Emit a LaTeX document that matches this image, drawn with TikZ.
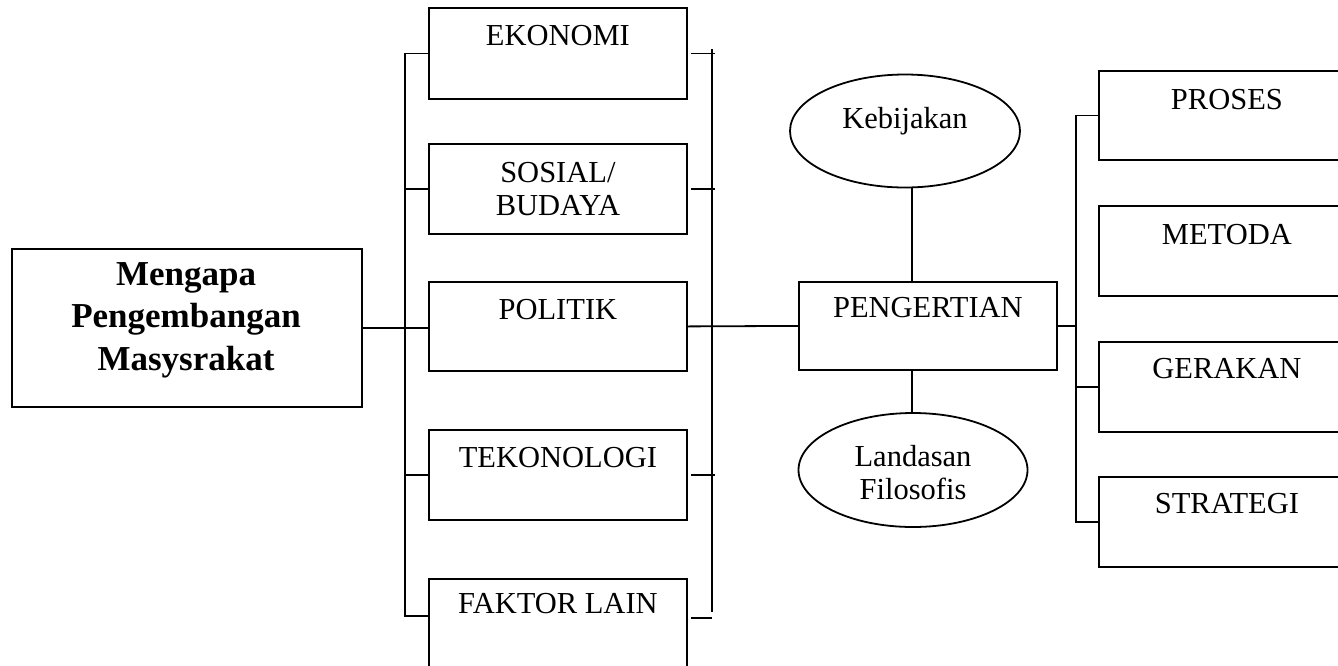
\documentclass[tikz,border=0pt]{standalone}
\usepackage{fontspec}
\setmainfont{Liberation Serif}
\usetikzlibrary{shapes.geometric}
\tikzset{
  box/.style={draw, line width=1.8pt, inner sep=0pt, anchor=north west, minimum width=258, minimum height=90},
  oval/.style={draw, ellipse, line width=1.8pt, inner sep=0pt},
  lbl/.style={inner sep=0pt, anchor=north, align=center, font=\fontsize{30.5}{33}\selectfont},
  conn/.style={line width=1.8pt},
}
\begin{document}
\begin{tikzpicture}[x=1pt,y=-1pt]
\useasboundingbox (0,0) rectangle (1338,665);
\clip (0,0) rectangle (1338,665);

% main box
\node[box, minimum width=350, minimum height=158] (main) at (11,248) {};
\node[lbl, font=\fontsize{35}{42.5}\selectfont\bfseries] (maint) at (186,262) {Mengapa\\Pengembangan\\Masysrakat};

% left column
\node[box, minimum height=91] (eko) at (428,7) {};
\node[lbl] (ekot) at (eko.north |- 0,25) {EKONOMI};
\node[box] (sos) at (428,143) {};
\node[lbl] (sost) at (sos.north |- 0,162) {SOSIAL/\\BUDAYA};
\node[box, minimum height=89] (pol) at (428,281) {};
\node[lbl] (polt) at (pol.north |- 0,299) {POLITIK};
\node[box] (tek) at (428,429) {};
\node[lbl] (tekt) at (tek.north |- 0,447) {TEKONOLOGI};
\node[box, minimum height=110] (fak) at (428,578) {};
\node[lbl] (fakt) at (fak.north |- 0,593) {FAKTOR LAIN};

% centre
\node[box, minimum height=88] (pen) at (798,281) {};
\node[lbl] (pent) at (pen.north |- 0,297) {PENGERTIAN};
\node[oval, minimum width=230, minimum height=113] (keb) at (905,131) {};
\node[lbl] (kebt) at (keb.center |- 0,107) {Kebijakan};
\node[oval, minimum width=229, minimum height=114] (lan) at (913,470) {};
\node[lbl] (lant) at (lan.center |- 0,445) {Landasan\\Filosofis};

% right column
\node[box, minimum width=256, minimum height=89] (pro) at (1098,70) {};
\node[lbl] (prot) at (pro.north |- 0,89) {PROSES};
\node[box, minimum width=256] (met) at (1098,205) {};
\node[lbl] (mett) at (met.north |- 0,224) {METODA};
\node[box, minimum width=256] (ger) at (1098,341) {};
\node[lbl] (gert) at (ger.north |- 0,358) {GERAKAN};
\node[box, minimum width=256] (str) at (1098,476) {};
\node[lbl] (strt) at (str.north |- 0,493) {STRATEGI};

% left bracket
\coordinate (lbx) at (405,0);
\coordinate (lbot) at (405,616);
\draw[conn] (eko.west) -- (eko.west -| lbx) -- (lbot) -- (lbot -| fak.west);
\draw[conn] (sos.west) -- (sos.west -| lbx);
\draw[conn] (tek.west) -- (tek.west -| lbx);
\draw[conn] (main.east) -- (main.east -| pol.west);

% right bracket
\coordinate (rtop) at (712,49);
\coordinate (rbot) at (712,612);
\coordinate (fs) at (712,618);
\draw[conn] (rtop) -- (rbot);
\draw[conn] ([xshift=3pt]eko.east) -- ([xshift=3pt]eko.east -| rtop);
\draw[conn] ([xshift=3pt]sos.east) -- ([xshift=3pt]sos.east -| rtop);
\draw[conn] ([xshift=3pt]tek.east) -- ([xshift=3pt]tek.east -| rtop);
\draw[conn] ([xshift=3pt]fak.east |- fs) -- (fs);
\draw[conn] (pol.east) -- (pen.west);

% centre links
\coordinate (kx) at (912,0);
\draw[conn] (keb.south -| kx) -- (pen.north -| kx);
\draw[conn] (pen.south -| kx) -- (lan.north -| kx);

% right bracket
\coordinate (rbx) at (1076,0);
\draw[conn] (pen.east) -- (pen.east -| rbx);
\draw[conn] (pro.west) -- (pro.west -| rbx) -- (str.west -| rbx) -- (str.west);
\draw[conn] (ger.west) -- (ger.west -| rbx);
\end{tikzpicture}
\end{document}
